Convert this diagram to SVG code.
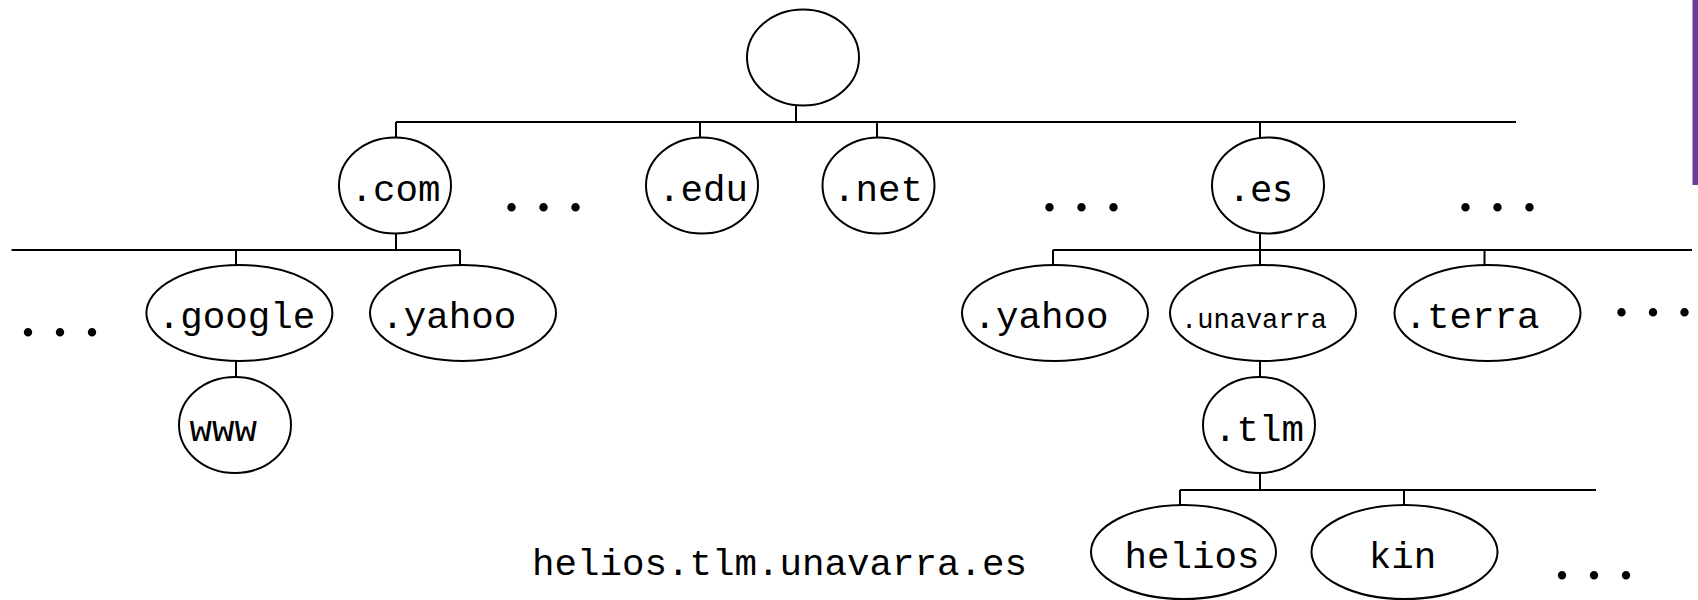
<svg xmlns="http://www.w3.org/2000/svg" width="1698" height="600" viewBox="0 0 1698 600">
<style>
  .node ellipse { fill: #ffffff; stroke: #000000; stroke-width: 2; }
  .lbl { font-family: "Liberation Mono", "Courier New", monospace; font-size: 37.5px; fill: #000000; text-anchor: middle; }
  .sans { font-family: "DejaVu Sans Mono", "Liberation Mono", monospace; font-size: 36px; }
  .small { font-size: 27px; }
  .dots { font-family: "Liberation Serif", serif; font-weight: bold; font-size: 52px; fill: #000000; }
  #connectors line { stroke: #000000; stroke-width: 2; }
</style>
<rect x="0" y="0" width="1698" height="600" fill="#ffffff"/>
<rect x="1692.5" y="0" width="5.5" height="185" fill="#6a3d9b"/>
<g id="connectors">
  <line x1="796" y1="106" x2="796" y2="122"/>
  <line x1="396" y1="122" x2="1516" y2="122"/>
  <line x1="396" y1="122" x2="396" y2="138"/>
  <line x1="700" y1="122" x2="700" y2="138"/>
  <line x1="877" y1="122" x2="877" y2="138"/>
  <line x1="1260" y1="122" x2="1260" y2="138"/>
  <line x1="396" y1="233" x2="396" y2="250"/>
  <line x1="11.5" y1="250" x2="460" y2="250"/>
  <line x1="236" y1="250" x2="236" y2="266"/>
  <line x1="460" y1="250" x2="460" y2="266"/>
  <line x1="236" y1="360" x2="236" y2="377"/>
  <line x1="1260" y1="233" x2="1260" y2="250"/>
  <line x1="1053" y1="250" x2="1692" y2="250"/>
  <line x1="1053" y1="250" x2="1053" y2="266"/>
  <line x1="1260" y1="250" x2="1260" y2="266"/>
  <line x1="1484.5" y1="250" x2="1484.5" y2="266"/>
  <line x1="1260" y1="360" x2="1260" y2="377"/>
  <line x1="1260" y1="473" x2="1260" y2="490"/>
  <line x1="1180" y1="490" x2="1596" y2="490"/>
  <line x1="1180" y1="490" x2="1180" y2="506"/>
  <line x1="1404" y1="490" x2="1404" y2="506"/>
</g>
<g id="root" class="node"><ellipse cx="803" cy="57.5" rx="56" ry="48"/></g>
<g id="com" class="node"><ellipse cx="395" cy="185.5" rx="56" ry="48"/><text class="lbl" x="395.5" y="200.5">.com</text></g>
<g id="edu" class="node"><ellipse cx="702" cy="185.5" rx="56" ry="48"/><text class="lbl" x="703" y="200.5">.edu</text></g>
<g id="net" class="node"><ellipse cx="878.5" cy="185.5" rx="56" ry="48"/><text class="lbl" x="878" y="200.5">.net</text></g>
<g id="es" class="node"><ellipse cx="1268" cy="185.5" rx="56" ry="48"/><text class="lbl sans" x="1261" y="200.5">.es</text></g>
<g id="google" class="node"><ellipse cx="239.4" cy="313" rx="93" ry="48"/><text class="lbl" x="236.6" y="328.3">.google</text></g>
<g id="yahoo-com" class="node"><ellipse cx="463" cy="313" rx="93" ry="48"/><text class="lbl" x="448.7" y="328.3">.yahoo</text></g>
<g id="www" class="node"><ellipse cx="235" cy="425" rx="56" ry="48"/><text class="lbl" x="223.3" y="440.5">www</text></g>
<g id="yahoo-es" class="node"><ellipse cx="1055" cy="313" rx="93" ry="48"/><text class="lbl" x="1041" y="328.3">.yahoo</text></g>
<g id="unavarra" class="node"><ellipse cx="1263" cy="313" rx="93" ry="48"/><text class="lbl small" x="1254" y="328.3">.unavarra</text></g>
<g id="terra" class="node"><ellipse cx="1487.5" cy="313" rx="93" ry="48"/><text class="lbl" x="1472" y="328.3">.terra</text></g>
<g id="tlm" class="node"><ellipse cx="1259" cy="425" rx="56" ry="48"/><text class="lbl" x="1259" y="440.5">.tlm</text></g>
<g id="helios" class="node"><ellipse cx="1183.5" cy="552" rx="92.5" ry="47"/><text class="lbl" x="1192" y="568.3">helios</text></g>
<g id="kin" class="node"><ellipse cx="1404.5" cy="552" rx="93" ry="47"/><text class="lbl" x="1402.5" y="568.3">kin</text></g>
<text class="lbl" x="779.5" y="575">helios.tlm.unavarra.es</text>
<g id="ellipses-dots">
  <text class="dots" x="505" y="211">.<tspan dx="19">.</tspan><tspan dx="19">.</tspan></text>
  <text class="dots" x="1043" y="211">.<tspan dx="19">.</tspan><tspan dx="19">.</tspan></text>
  <text class="dots" x="1459" y="211">.<tspan dx="19">.</tspan><tspan dx="19">.</tspan></text>
  <text class="dots" x="21.5" y="335.5">.<tspan dx="19">.</tspan><tspan dx="19">.</tspan></text>
  <text class="dots" x="1615" y="315.5">.<tspan dx="18.5">.</tspan><tspan dx="18.5">.</tspan></text>
  <text class="dots" x="1555.5" y="578.5">.<tspan dx="19">.</tspan><tspan dx="19">.</tspan></text>
</g>
</svg>
